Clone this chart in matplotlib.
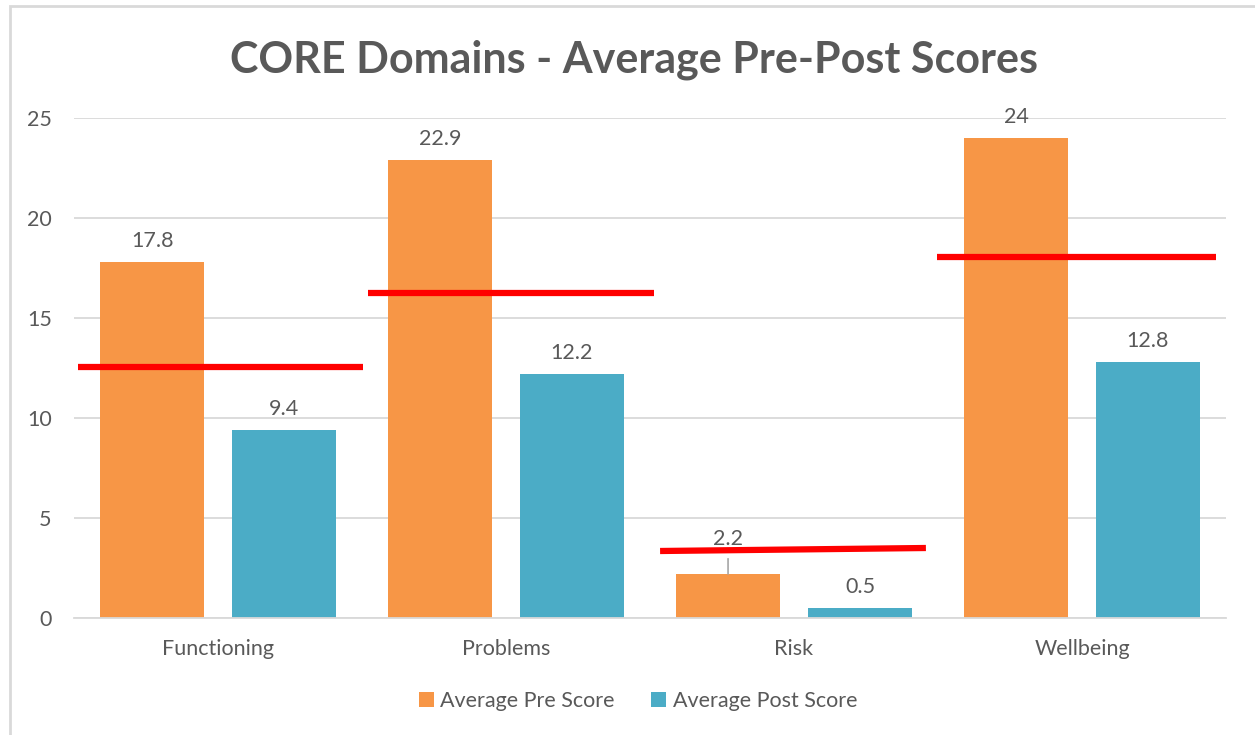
import matplotlib
matplotlib.use("Agg")
import matplotlib.pyplot as plt
import numpy as np

categories = ["Functioning", "Problems", "Risk", "Wellbeing"]
pre_scores = [17.8, 22.9, 2.2, 24]
post_scores = [9.4, 12.2, 0.5, 12.8]
# red threshold lines (value at left end, value at right end)
threshold_left = [12.55, 16.25, 3.35, 18.05]
threshold_right = [12.55, 16.25, 3.5, 18.05]
yticks = [0, 5, 10, 15, 20, 25]

ORANGE = "#F79646"
TEAL = "#4BACC6"
TXT = "#595959"
GRID = "#D9D9D9"
FS = 15.5

plt.rcParams['font.family'] = ['Lato', 'DejaVu Sans']

fig = plt.figure(figsize=(12.55, 7.35), dpi=100)
ax = fig.add_axes([74/1255, 1-618/735, (1226-74)/1255, 500/735])

x = np.arange(len(categories))
w = 0.358
off = 0.229
b1 = ax.bar(x - off, pre_scores, w, color=ORANGE, label="Average Pre Score", zorder=2)
b2 = ax.bar(x + off, post_scores, w, color=TEAL, label="Average Post Score", zorder=2)

ax.set_xlim(-0.5, len(categories) - 0.5)
ax.set_ylim(0, 25)
ax.set_yticks(yticks)
ax.set_xticks(x)
ax.set_xticklabels(categories)
ax.tick_params(axis='both', length=0, labelsize=FS, colors=TXT)
ax.tick_params(axis='y', pad=16)
ax.tick_params(axis='x', pad=15)
ax.grid(axis='y', color=GRID, linewidth=1.3, zorder=0)
for s in ["top", "right", "left"]:
    ax.spines[s].set_visible(False)
ax.spines["bottom"].set_color(GRID)
ax.spines["bottom"].set_linewidth(1.3)

# data labels
for i, (p, q) in enumerate(zip(pre_scores, post_scores)):
    if i == 2:
        ax.annotate(f"{p:g}", xy=(x[i] - off, p), xytext=(x[i] - off, p + 1.75),
                    ha='center', va='center', fontsize=FS, color=TXT,
                    arrowprops=dict(arrowstyle='-', color='#A6A6A6', lw=1.2,
                                    shrinkA=5, shrinkB=0))
    else:
        ax.text(x[i] - off, p + 0.55, f"{p:g}", ha='center', va='bottom', fontsize=FS, color=TXT)
    ax.text(x[i] + off, q + 0.55, f"{q:g}", ha='center', va='bottom', fontsize=FS, color=TXT)

# red threshold lines
ext_left = [-0.486, -0.479, -0.465, -0.503]
ext_right = [0.503, 0.514, 0.458, 0.465]
for i in range(len(categories)):
    ax.plot([x[i] + ext_left[i], x[i] + ext_right[i]],
            [threshold_left[i], threshold_right[i]],
            color="#FF0000", linewidth=4.5, solid_capstyle='butt', zorder=4, clip_on=False)

fig.text(634/1255, 1-60/735, "CORE Domains - Average Pre-Post Scores", ha='center', va='center',
         fontsize=31, fontweight='bold', color=TXT)

leg = fig.legend(handles=[b1, b2], loc='center', bbox_to_anchor=(638/1255, 1-701/735),
                 ncol=2, frameon=False, fontsize=FS, handlelength=0.7, handleheight=0.7,
                 handletextpad=0.3, columnspacing=1.7)
for t in leg.get_texts():
    t.set_color(TXT)

# chart border
border = plt.Rectangle((10/1255, -0.01), 1.5, 1 - 6/735 + 0.01, transform=fig.transFigure,
                       fill=False, edgecolor=GRID, linewidth=2)
fig.patches.append(border)

fig.savefig("out.png", dpi=100, facecolor='white')
